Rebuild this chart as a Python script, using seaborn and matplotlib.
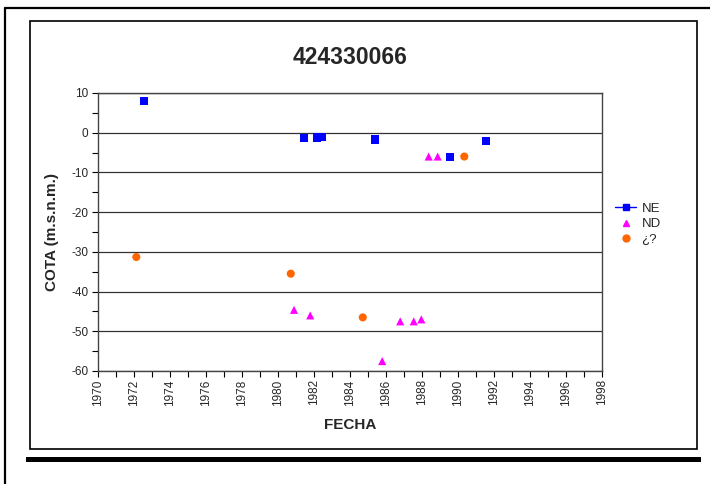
import matplotlib
matplotlib.use("Agg")
import matplotlib.pyplot as plt
from matplotlib.lines import Line2D
from matplotlib.patches import Rectangle
from matplotlib.ticker import MultipleLocator
import seaborn as sns
import pandas as pd

# ---- data ----
ne_x = [1972.56, 1981.46, 1982.17, 1982.44, 1985.37, 1989.54, 1991.54]
ne_y = [8.0, -1.4, -1.2, -1.1, -1.7, -6.1, -2.1]
nd_x = [1980.89, 1981.79, 1985.79, 1986.79, 1987.54, 1987.96, 1988.37, 1988.87]
nd_y = [-44.6, -46.0, -57.5, -47.5, -47.5, -47.0, -6.0, -6.0]
q_x = [1972.13, 1980.71, 1984.71, 1990.35]
q_y = [-31.3, -35.5, -46.5, -6.0]
series = ["NE", "ND", "¿?"]
colors = {"NE": "#0000FF", "ND": "#FF00FF", "¿?": "#FF6600"}
markers = {"NE": "s", "ND": "^", "¿?": "o"}
title = "424330066"

df = pd.concat([
    pd.DataFrame({"x": ne_x, "y": ne_y, "s": "NE"}),
    pd.DataFrame({"x": nd_x, "y": nd_y, "s": "ND"}),
    pd.DataFrame({"x": q_x, "y": q_y, "s": "¿?"}),
])

sns.set_style("white")
plt.rcParams['font.family'] = ['Liberation Sans', 'DejaVu Sans']
plt.rcParams['axes.unicode_minus'] = False

W, H = 710, 484
fig = plt.figure(figsize=(W / 100, H / 100), dpi=100)

# outer frame lines
fig.add_artist(Line2D([5 / W, 5 / W], [0, 1 - 8 / H], color="black", lw=1.6))
fig.add_artist(Line2D([5 / W, 1], [1 - 8 / H, 1 - 8 / H], color="black", lw=1.6))
# inner box
fig.add_artist(Rectangle((30 / W, 1 - 449 / H), 667 / W, 428 / H,
                         fill=False, edgecolor="black", lw=1.2))
# thick bar
fig.add_artist(Rectangle((26 / W, 1 - 462 / H), 675 / W, 5 / H,
                         facecolor="black", edgecolor="none"))

ax = fig.add_axes([98 / W, 1 - 371 / H, 504 / W, 278 / H])
sns.scatterplot(data=df, x="x", y="y", hue="s", style="s",
                palette=colors, markers=markers, hue_order=series,
                style_order=series, s=34, edgecolor="none", ax=ax,
                legend=False, zorder=3)

ax.set_xlim(1970, 1998)
ax.set_ylim(-60, 10)
ax.xaxis.set_major_locator(MultipleLocator(2))
ax.xaxis.set_minor_locator(MultipleLocator(1))
ax.yaxis.set_major_locator(MultipleLocator(10))
ax.yaxis.set_minor_locator(MultipleLocator(5))
ax.tick_params(axis="both", which="both", direction="out", length=4,
               width=0.8, color="black", labelsize=8.5)
ax.tick_params(axis="x", which="both", bottom=True, labelrotation=90, pad=2)
ax.tick_params(axis="y", which="both", left=True, pad=3)
ax.grid(axis="y", which="major", color="#333333", lw=0.9, zorder=0)
ax.set_axisbelow(True)
for sp in ax.spines.values():
    sp.set_color("#444444")
    sp.set_linewidth(1.0)
    sp.set_visible(True)

ax.set_xlabel("FECHA", fontsize=11, fontweight="bold", labelpad=9)
ax.set_ylabel("COTA (m.s.n.m.)", fontsize=11, fontweight="bold", labelpad=9)
fig.text((98 + 602) / 2 / W, 1 - 58 / H, title, ha="center", va="center",
         fontsize=16.5, fontweight="bold")

handles = [
    Line2D([], [], color=colors["NE"], marker="s", markersize=5, lw=1),
    Line2D([], [], color=colors["ND"], marker="^", markersize=5, lw=0),
    Line2D([], [], color=colors["¿?"], marker="o", markersize=5, lw=0),
]
fig.legend(handles, series, loc="center left",
           bbox_to_anchor=(606 / W, 1 - 224 / H), frameon=False,
           fontsize=9.5, handlelength=1.6, handletextpad=0.4,
           labelspacing=0.25, borderpad=0.2)

fig.savefig("out.png", dpi=100)
